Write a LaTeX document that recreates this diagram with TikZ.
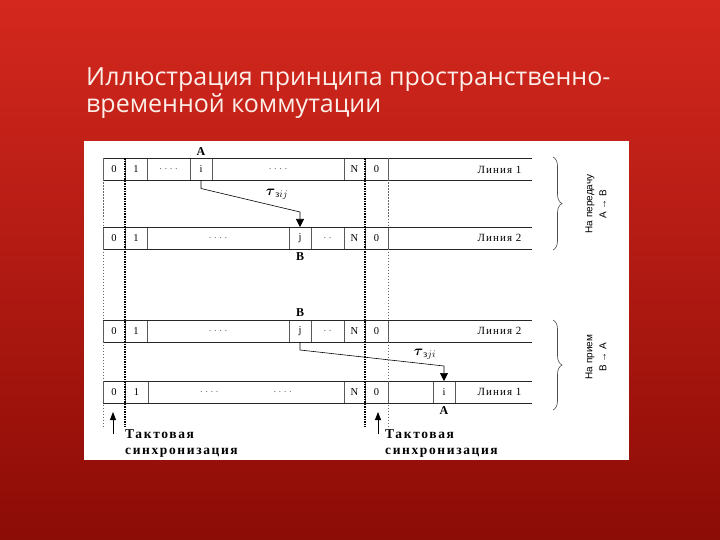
\documentclass[tikz,border=0pt]{standalone}
\usepackage{amsmath}
\usepackage{fontspec}
\setmainfont{Liberation Serif}
\newfontfamily\titlefont{Open Sans}
\newfontfamily\sidefont{Liberation Sans}
\newfontfamily\spacedfont{Liberation Serif}[LetterSpace=12]
\newfontfamily\linefont{Liberation Serif}[LetterSpace=10]
\usetikzlibrary{arrows.meta,positioning,calc,decorations.pathreplacing}

\definecolor{bgtop}{RGB}{212,40,30}
\definecolor{bgbot}{RGB}{140,12,6}
\definecolor{titlecol}{RGB}{252,238,232}

\begin{document}
\begin{tikzpicture}[
  x=1pt, y=-1pt,
  cell/.style={draw=black!65, line width=0.6pt, minimum height=22pt,
    inner sep=0pt, outer sep=0pt, font=\fontsize{10.5}{12}\selectfont},
  rowline/.style={draw=black!85, line width=0.9pt},
  linelab/.style={anchor=east, font=\linefont\fontsize{11}{12}\selectfont},
  endlab/.style={font=\bfseries\fontsize{12}{12}\selectfont, inner sep=1pt},
  link/.style={-{Triangle[width=8pt,length=8pt]}, line width=0.6pt},
  clk/.style={-{Triangle[width=6pt,length=8pt]}, line width=0.8pt},
  syncthin/.style={draw=black!60, line width=0.6pt, dash pattern=on 1.5pt off 1.5pt},
  syncthick/.style={draw=black, line width=1.2pt, dash pattern=on 1.5pt off 1pt},
  brace/.style={decorate, decoration={brace, amplitude=9pt}, line width=0.6pt, draw=black!70},
  side/.style={rotate=90, align=center, font=\sidefont\fontsize{10}{14}\selectfont},
  synclab/.style={anchor=north west, align=left, inner sep=0pt,
    font=\spacedfont\bfseries\fontsize{13.5}{16}\selectfont}
]
  \useasboundingbox (0,0) rectangle (720,540);
  \fill[top color=bgtop, bottom color=bgbot] (0,0) rectangle (720,540);

  % title
  \node[anchor=north west, align=left, inner sep=0pt, text=titlecol,
    font=\titlefont\fontsize{25}{27.5}\selectfont] (title) at (86,67)
    {Иллюстрация принципа пространственно-\\временной коммутации};

  % panel
  \fill[white] (84,141) rectangle (629,460);

  % transmit, line 1
  \foreach \a/\b/\t/\n in {103/125/0/c0, 125/147/1/c1, 147/190/{\color{black!55}.~.~.~.}/d1,
      190/212/i/i, 212/344/{\color{black!55}.~.~.~.}/d2, 344/365/N/n, 365/388/0/z} {
    \pgfmathsetmacro\w{\b-\a}
    \node[cell, minimum width=\w pt] (tx1-\n) at ({(\a+\b)/2},169.5) {\t};
  }
  \node[linelab] (tx1-name) at (525,169.5) {Линия 1};
  \draw[rowline] (tx1-c0.north west) -- ++(429,0) (tx1-c0.south west) -- ++(429,0);

  % line 2, transmit and receive
  \foreach \r/\y in {tx2/238, rx2/331} {
    \foreach \a/\b/\t/\n in {103/125/0/c0, 125/147/1/c1, 147/289/{\color{black!55}.~.~.~.}/d1,
        289/311/j/j, 311/344/{\color{black!55}.~.}/d2, 344/365/N/n, 365/388/0/z} {
      \pgfmathsetmacro\w{\b-\a}
      \node[cell, minimum width=\w pt] (\r-\n) at ({(\a+\b)/2},\y) {\t};
    }
    \node[linelab] (\r-name) at (525,\y) {Линия 2};
    \draw[rowline] (\r-c0.north west) -- ++(429,0) (\r-c0.south west) -- ++(429,0);
  }

  % receive, line 1
  \foreach \a/\b/\t/\n in {103/125/0/c0, 125/148/1/c1,
      148/344/{\color{black!55}.~.~.~.\hspace{55pt}.~.~.~.}/d1, 344/365/N/n, 365/388/0/z,
      388/433/{}/e, 433/455/i/i} {
    \pgfmathsetmacro\w{\b-\a}
    \node[cell, minimum width=\w pt] (rx1-\n) at ({(\a+\b)/2},392) {\t};
  }
  \node[linelab] (rx1-name) at (525,392) {Линия 1};
  \draw[rowline] (rx1-c0.north west) -- ++(429,0) (rx1-c0.south west) -- ++(429,0);

  % subscriber labels
  \node[endlab, above=2pt of tx1-i] (a1) {А};
  \node[endlab, below=2pt of tx2-j] (b1) {В};
  \node[endlab, above=2pt of rx2-j] (b2) {В};
  \node[endlab, below=2pt of rx1-i] (a2) {А};

  % switching paths
  \draw[link] (tx1-i.south) -- ++(0,8) -- ($(tx2-j.north)+(0,-15)$) -- (tx2-j.north);
  \draw[link] (rx2-j.south) -- ++(0,8) -- ($(rx1-i.north)+(0,-15)$) -- (rx1-i.north);
  \node (tau1) at (277,194) {\Large$\boldsymbol{\tau}_{\text{з}ij}$};
  \node (tau2) at (425,354) {\Large$\boldsymbol{\tau}_{\text{з}ji}$};

  % frame sync lines
  \coordinate (foot) at (0,427);
  \draw[syncthin] (tx1-c0.north west) -- (tx1-c0.north west |- foot);
  \draw[syncthick] (tx1-c1.north west) -- (tx1-c1.north west |- foot);
  \draw[syncthick] (tx1-z.north west) -- (tx1-z.north west |- foot);
  \draw[syncthin] (tx1-z.north east) -- (tx1-z.north east |- foot);

  \coordinate (clk1) at (113,434);
  \coordinate (clk2) at (378,434);
  \draw[clk] (clk1) -- ++(0,-22);
  \draw[clk] (clk2) -- ++(0,-22);
  \node[synclab] (sync1) at (125,429) {Тактовая\\синхронизация};
  \node[synclab] (sync2) at (385,429) {Тактовая\\синхронизация};

  % directions
  \draw[brace] (553,157) -- (553,250);
  \draw[brace] (553,320) -- (553,410);
  \node[side] (dir1) at (596,204) {На передачу\\А → В};
  \node[side] (dir2) at (596,357) {На прием\\В → А};
\end{tikzpicture}
\end{document}
